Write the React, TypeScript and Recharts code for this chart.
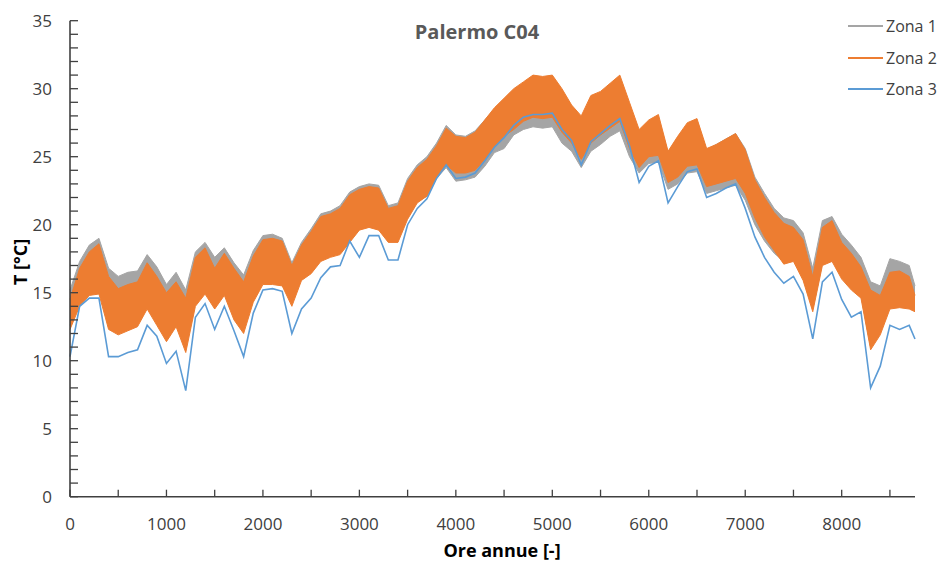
import { Area, ComposedChart, Line, XAxis, YAxis } from "recharts";

// ore dell'anno (campionamento ogni 100 h)
const hours = [
  0, 100, 200, 300, 400, 500, 600, 700, 800, 900,
  1000, 1100, 1200, 1300, 1400, 1500, 1600, 1700, 1800, 1900,
  2000, 2100, 2200, 2300, 2400, 2500, 2600, 2700, 2800, 2900,
  3000, 3100, 3200, 3300, 3400, 3500, 3600, 3700, 3800, 3900,
  4000, 4100, 4200, 4300, 4400, 4500, 4600, 4700, 4800, 4900,
  5000, 5100, 5200, 5300, 5400, 5500, 5600, 5700, 5800, 5900,
  6000, 6100, 6200, 6300, 6400, 6500, 6600, 6700, 6800, 6900,
  7000, 7100, 7200, 7300, 7400, 7500, 7600, 7700, 7800, 7900,
  8000, 8100, 8200, 8300, 8400, 8500, 8600, 8700, 8760,
];

// Zona 1 - inviluppo min / max
const zona1Min = [
  12.6, 14.3, 15.1, 15.2, 12.6, 12.2, 12.5, 12.8, 14.1, 12.9,
  11.7, 12.8, 10.9, 14.3, 15.2, 14.1, 15.1, 13.3, 12.3, 14.6,
  15.9, 15.9, 15.8, 14.3, 16.2, 16.7, 17.6, 17.9, 18.1, 19.0,
  19.9, 20.1, 19.9, 19.0, 19.0, 20.6, 21.7, 22.1, 23.4, 24.2,
  23.2, 23.3, 23.5, 24.3, 25.3, 25.6, 26.6, 27.0, 27.2, 27.1,
  27.2, 26.0, 25.4, 24.2, 25.4, 25.9, 26.5, 26.9, 25.0, 23.8,
  24.5, 24.6, 22.6, 23.0, 23.8, 23.9, 22.3, 22.5, 22.7, 22.9,
  21.8, 20.0, 18.8, 17.9, 17.3, 17.5, 16.1, 13.8, 17.2, 17.5,
  16.2, 15.4, 14.8, 11.0, 12.1, 14.0, 14.1, 14.0, 13.8,
];
const zona1Max = [
  15.2, 17.3, 18.5, 19.0, 16.8, 16.2, 16.5, 16.6, 17.8, 16.9,
  15.6, 16.5, 15.2, 18.0, 18.7, 17.6, 18.3, 17.2, 16.3, 18.1,
  19.2, 19.3, 19.0, 17.2, 18.7, 19.7, 20.8, 21.0, 21.4, 22.4,
  22.8, 23.0, 22.9, 21.4, 21.6, 23.4, 24.4, 25.0, 26.0, 27.3,
  26.6, 26.5, 26.9, 27.7, 28.5, 29.0, 29.5, 29.8, 30.2, 30.1,
  30.2, 29.4, 28.3, 27.5, 28.8, 29.2, 29.8, 30.3, 28.5, 26.8,
  27.5, 27.8, 25.3, 26.4, 27.3, 27.6, 25.5, 25.9, 26.3, 26.7,
  25.6, 23.5, 22.3, 21.2, 20.5, 20.3, 19.4, 16.8, 20.3, 20.6,
  19.3, 18.5, 17.6, 15.8, 15.5, 17.5, 17.3, 17.0, 15.5,
];

// Zona 2 - inviluppo min / max
const zona2Min = [
  12.3, 14.0, 14.8, 14.9, 12.3, 11.9, 12.2, 12.5, 13.8, 12.6,
  11.4, 12.5, 10.6, 14.0, 14.9, 13.8, 14.8, 13.0, 12.0, 14.3,
  15.6, 15.6, 15.5, 14.0, 15.9, 16.4, 17.3, 17.6, 17.8, 18.7,
  19.6, 19.8, 19.6, 18.7, 18.7, 20.4, 21.6, 22.1, 23.5, 24.4,
  23.8, 23.8, 24.0, 24.8, 25.7, 26.5, 27.0, 27.6, 27.9, 27.8,
  27.9, 26.8, 26.0, 24.8, 26.0, 26.6, 27.1, 27.6, 25.6, 24.2,
  25.0, 25.1, 23.1, 23.5, 24.3, 24.4, 22.8, 23.0, 23.2, 23.4,
  22.3, 20.5, 19.1, 18.1, 17.1, 17.3, 15.9, 13.6, 17.0, 17.3,
  16.0, 15.2, 14.6, 10.8, 11.9, 13.8, 13.9, 13.8, 13.6,
];
const zona2Max = [
  14.5, 16.8, 18.0, 18.6, 16.2, 15.3, 15.6, 15.8, 17.2, 16.2,
  15.0, 15.8, 14.6, 17.6, 18.3, 16.8, 17.9, 16.8, 15.8, 17.7,
  18.9, 19.0, 18.8, 17.0, 18.5, 19.5, 20.6, 20.8, 21.2, 22.2,
  22.6, 22.8, 22.7, 21.2, 21.4, 23.2, 24.2, 24.8, 25.8, 27.1,
  26.5, 26.4, 26.8, 27.7, 28.6, 29.3, 30.0, 30.5, 31.0, 30.9,
  31.0, 30.0, 28.8, 28.0, 29.5, 29.8, 30.4, 31.0, 29.0, 27.0,
  27.7, 28.1, 25.4, 26.5, 27.5, 27.8, 25.6, 25.9, 26.3, 26.7,
  25.5, 23.3, 22.0, 20.9, 20.1, 19.8, 18.9, 16.2, 19.8, 20.3,
  18.7, 17.9, 16.9, 15.2, 14.8, 16.5, 16.6, 16.2, 14.8,
];

// Zona 3
const zona3 = [
  10.3, 14.0, 14.6, 14.6, 10.3, 10.3, 10.6, 10.8, 12.6, 11.8,
  9.8, 10.7, 7.8, 13.2, 14.2, 12.3, 14.0, 12.2, 10.3, 13.5,
  15.2, 15.3, 15.1, 12.0, 13.8, 14.6, 16.1, 16.9, 17.0, 18.8,
  17.6, 19.2, 19.2, 17.4, 17.4, 20.0, 21.2, 21.9, 23.4, 24.4,
  23.4, 23.5, 23.8, 24.7, 25.7, 26.4, 27.3, 27.9, 28.1, 28.1,
  28.2, 27.0, 26.2, 24.4, 26.1, 26.7, 27.3, 27.8, 25.8, 23.1,
  24.3, 24.7, 21.6, 22.8, 23.9, 24.1, 22.0, 22.3, 22.7, 23.0,
  21.2, 19.1, 17.6, 16.5, 15.7, 16.2, 14.9, 11.6, 15.8, 16.5,
  14.5, 13.2, 13.6, 8.0, 9.6, 12.6, 12.3, 12.6, 11.6,
];

const xTicks = [0, 500, 1000, 1500, 2000, 2500, 3000, 3500, 4000, 4500, 5000, 5500, 6000, 6500, 7000, 7500, 8000, 8500];
const xLabels = [0, 1000, 2000, 3000, 4000, 5000, 6000, 7000, 8000];
const yTicks = [
  0, 1, 2, 3, 4, 5, 6, 7, 8, 9, 10, 11, 12, 13, 14, 15, 16, 17,
  18, 19, 20, 21, 22, 23, 24, 25, 26, 27, 28, 29, 30, 31, 32, 33, 34, 35,
];
const yLabels = [0, 5, 10, 15, 20, 25, 30, 35];

const series = [
  { name: "Zona 1", color: "#A5A5A5" },
  { name: "Zona 2", color: "#ED7D31" },
  { name: "Zona 3", color: "#5B9BD5" },
];

const data = hours.map((h, i) => ({
  h,
  z1: [zona1Min[i], zona1Max[i]],
  z2: [zona2Min[i], zona2Max[i]],
  z3: zona3[i],
}));

const FONT = "'Open Sans', sans-serif";
const AXIS = "#404040";

function YTick(props: any) {
  const { x, y, payload } = props;
  const v = payload.value;
  return (
    <g>
      <line x1={x} x2={x + 8} y1={y} y2={y} stroke={AXIS} strokeWidth={1.3} />
      {yLabels.includes(v) && (
        <text x={x - 18} y={y} textAnchor="end" dominantBaseline="central" fontSize={17} fill={AXIS} fontFamily={FONT}>
          {v}
        </text>
      )}
    </g>
  );
}

function XTick(props: any) {
  const { x, y, payload } = props;
  const v = payload.value;
  return (
    <g>
      <line x1={x} x2={x} y1={y} y2={y - 7} stroke={AXIS} strokeWidth={1.3} />
      {xLabels.includes(v) && (
        <text x={x} y={y + 27} textAnchor="middle" dominantBaseline="central" fontSize={17} fill={AXIS} fontFamily={FONT}>
          {v}
        </text>
      )}
    </g>
  );
}

export default function App() {
  return (
    <div style={{ position: "absolute", left: 0, top: 0, width: 940, height: 561, background: "#fff", fontFamily: FONT, overflow: "hidden" }}>
      <ComposedChart width={940} height={561} data={data} margin={{ top: 20.7, right: 25, bottom: 0, left: 0 }}>
        <XAxis
          dataKey="h"
          type="number"
          domain={[0, 8760]}
          ticks={xTicks}
          interval={0}
          tickSize={0}
          tickMargin={0}
          tickLine={false}
          height={64.3}
          axisLine={{ stroke: AXIS, strokeWidth: 1.6 }}
          tick={<XTick />}
        />
        <YAxis
          type="number"
          domain={[0, 35]}
          ticks={yTicks}
          interval={0}
          tickSize={0}
          tickMargin={0}
          tickLine={false}
          width={70}
          axisLine={{ stroke: AXIS, strokeWidth: 1.6 }}
          tick={<YTick />}
        />
        <Area type="linear" dataKey="z1" stroke={series[0].color} strokeWidth={1} fill={series[0].color} fillOpacity={1} isAnimationActive={false} dot={false} activeDot={false} />
        <Area type="linear" dataKey="z2" stroke={series[1].color} strokeWidth={1} fill={series[1].color} fillOpacity={1} isAnimationActive={false} dot={false} activeDot={false} />
        <Line type="linear" dataKey="z3" stroke={series[2].color} strokeWidth={1.6} dot={false} activeDot={false} isAnimationActive={false} />
      </ComposedChart>

      <div style={{ position: "absolute", left: 477, top: 31, transform: "translate(-50%, -50%)", whiteSpace: "nowrap", fontSize: 20, fontWeight: 700, color: "#595959" }}>
        Palermo C04
      </div>
      <div style={{ position: "absolute", left: 502, top: 541, transform: "translateX(-50%)", whiteSpace: "nowrap", fontSize: 18, lineHeight: "18px", fontWeight: 700, color: "#000" }}>
        Ore annue [-]
      </div>
      <div style={{ position: "absolute", left: 20, top: 262, transform: "translate(-50%, -50%) rotate(-90deg)", whiteSpace: "nowrap", fontSize: 18, lineHeight: "18px", fontWeight: 700, color: "#000" }}>
        T [°C]
      </div>

      {series.map((s, i) => (
        <div key={s.name} style={{ position: "absolute", left: 848, top: 26 + i * 31.5, transform: "translateY(-50%)", display: "flex", alignItems: "center", whiteSpace: "nowrap" }}>
          <span style={{ display: "inline-block", width: 35, height: 2, background: s.color, marginRight: 3 }} />
          <span style={{ fontSize: 16, color: AXIS }}>{s.name}</span>
        </div>
      ))}
    </div>
  );
}
